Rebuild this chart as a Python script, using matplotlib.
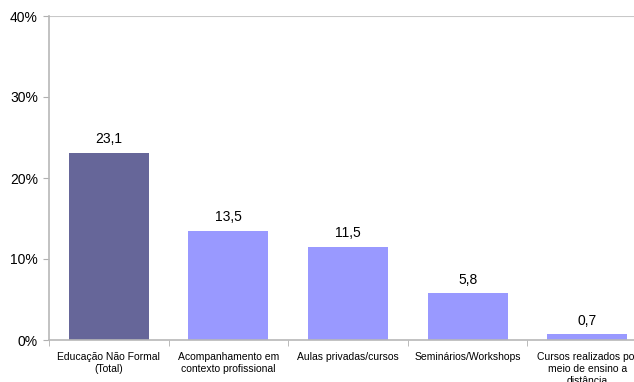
import matplotlib.pyplot as plt
import numpy as np

plt.rcParams['font.family'] = ['Liberation Sans', 'DejaVu Sans']

categories = ['Educação Não Formal\n(Total)', 'Acompanhamento em\ncontexto profissional',
              'Aulas privadas/cursos', 'Seminários/Workshops',
              'Cursos realizados por\nmeio de ensino a\ndistância']
values = [23.1, 13.5, 11.5, 5.8, 0.7]
colors = ['#666699', '#9999FF', '#9999FF', '#9999FF', '#9999FF']

fig = plt.figure(figsize=(6.34, 3.82), dpi=100)
ax = fig.add_axes([49 / 634, 42 / 382, 598 / 634, 324 / 382])

x = np.arange(len(values))
ax.bar(x, values, width=0.67, color=colors, zorder=2)

for xi, v in zip(x, values):
    ax.text(xi, v + 0.8, f'{v:.1f}'.replace('.', ','), ha='center', va='bottom', fontsize=10)

ax.set_xlim(-0.5, len(values) - 0.5)
ax.set_ylim(0, 40)
ax.set_yticks([0, 10, 20, 30, 40])
ax.set_yticklabels(['0%', '10%', '20%', '30%', '40%'], fontsize=10)
ax.axhline(40, color='#c8c8c8', lw=1.5, zorder=1)

# category labels centred under bars, ticks on category boundaries
ax.set_xticks(x)
ax.set_xticklabels(categories, fontsize=7.5)
ax.tick_params(axis='x', length=0, pad=9)
ax.set_xticks(np.arange(len(values)) - 0.5, minor=True)
ax.tick_params(axis='x', which='minor', length=4, color='#b0b0b0')
ax.tick_params(axis='y', length=4, color='#b0b0b0', pad=4)

for side in ['top', 'right']:
    ax.spines[side].set_visible(False)
for side in ['left', 'bottom']:
    ax.spines[side].set_color('#b8b8b8')
    ax.spines[side].set_linewidth(1.2)

fig.savefig('out.png', dpi=100)
